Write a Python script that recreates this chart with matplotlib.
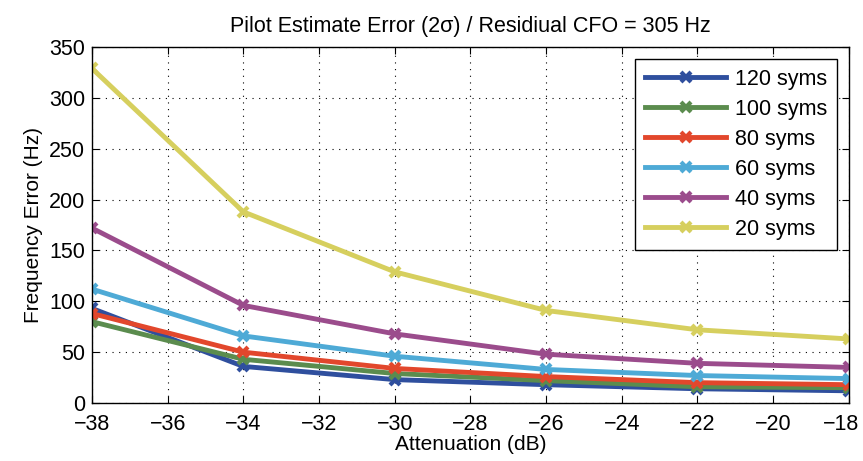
import matplotlib
matplotlib.use('Agg')
import matplotlib.pyplot as plt
import matplotlib.transforms as mtransforms

plt.rcParams['font.family'] = ['Liberation Sans', 'DejaVu Sans']

# attenuation in dB
atten = [-38, -34, -30, -26, -22, -18]

# frequency error (Hz) per pilot length
err_120 = [93, 36, 23, 18, 14, 12]
err_100 = [80, 43, 29, 22, 16, 15]
err_80 = [88, 50, 34, 26, 20, 18]
err_60 = [112, 66, 46, 33, 27, 24]
err_40 = [172, 96, 68, 48, 39, 35]
err_20 = [329, 188, 129, 91, 72, 63]

labels = ['120 syms', '100 syms', '80 syms', '60 syms', '40 syms', '20 syms']
colors = ['#2f4f9e', '#5b8c4e', '#e2472c', '#4eaad6', '#9b4c8c', '#d6cf5e']
series = [err_120, err_100, err_80, err_60, err_40, err_20]

fig = plt.figure(figsize=(8.63, 4.61), dpi=100)
ax = fig.add_axes([0.1066, 0.1258, 0.877, 0.772])

for vals, lab, c in zip(series, labels, colors):
    ax.plot(atten, vals, color=c, lw=3.5, marker='x', ms=7, mew=3, label=lab)

ax.set_xlim(-38, -18)
ax.set_ylim(0, 350)
ax.set_xticks(range(-38, -17, 2))
ax.set_xticklabels(['\u2212%d' % abs(v) for v in range(-38, -17, 2)])
ax.set_yticks(range(0, 351, 50))
ax.tick_params(direction='in', top=True, right=True, labelsize=15.5, length=5)
ax.tick_params(axis='x', pad=8)
ax.tick_params(axis='y', pad=5)
ax.grid(True, color='black', linestyle=(0, (1, 5)), lw=0.8)
for s in ax.spines.values():
    s.set_linewidth(1.0)

# keep the last x tick label inside the figure
last = ax.get_xticklabels()[-1]
last.set_transform(last.get_transform() +
                   mtransforms.ScaledTranslation(-8 / 100, 0, fig.dpi_scale_trans))

ax.set_title('Pilot Estimate Error (2\u03c3) / Residiual CFO = 305 Hz', fontsize=15.5, pad=11)
ax.set_xlabel('Attenuation (dB)', fontsize=15, labelpad=0)
ax.set_ylabel('Frequency Error (Hz)', fontsize=15, labelpad=4)

leg = ax.legend(loc='upper right', fontsize=15.5, fancybox=False, framealpha=1,
                edgecolor='black', handlelength=3.8, handletextpad=0.4,
                borderaxespad=0.55, labelspacing=0.42, borderpad=0.45)
leg.get_frame().set_linewidth(1.0)

fig.savefig('out.png', dpi=100)
